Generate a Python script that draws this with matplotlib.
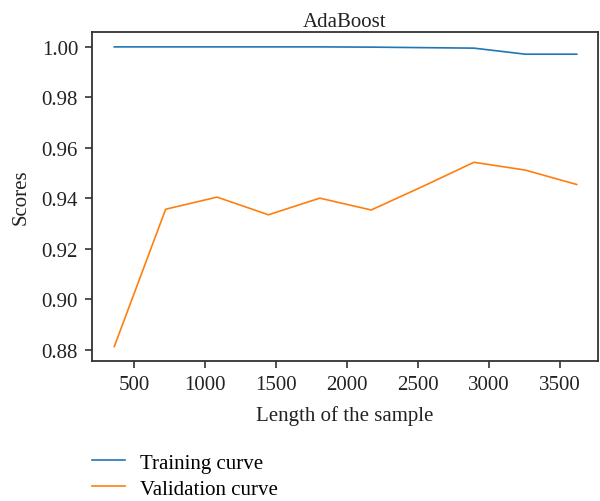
import matplotlib.pyplot as plt
import numpy as np

plt.rcParams['font.family'] = ['Liberation Serif', 'DejaVu Serif']

# learning curve data
train_sizes = [362, 724, 1086, 1448, 1810, 2172, 2534, 2896, 3258, 3620]
train_scores = [1.0, 1.0, 1.0, 1.0, 1.0, 0.9999, 0.9997, 0.9995, 0.9971, 0.9971]
valid_scores = [0.8813, 0.9357, 0.9405, 0.9335, 0.9401, 0.9354, 0.9447, 0.9543, 0.9512, 0.9455]
y_ticks = [0.88, 0.90, 0.92, 0.94, 0.96, 0.98, 1.00]
x_ticks = [500, 1000, 1500, 2000, 2500, 3000, 3500]

fig = plt.figure(figsize=(6, 5.02), dpi=100)
ax = fig.add_axes([0.1533, 0.2789, 0.8434, 0.6554])

ax.plot(train_sizes, train_scores, color='#1f77b4', lw=1.2, label='Training curve')
ax.plot(train_sizes, valid_scores, color='#ff7f0e', lw=1.2, label='Validation curve')

ax.set_xlim(205, 3770)
ax.set_ylim(0.8756, 1.0059)
ax.set_xticks(x_ticks)
ax.set_yticks(y_ticks)
ax.set_yticklabels(['%.2f' % v for v in y_ticks])

for s in ax.spines.values():
    s.set_color('#333333')
    s.set_linewidth(1.3)
ax.tick_params(direction='out', length=5, width=1.2, color='#333333',
               labelsize=15, labelcolor='#222222', pad=5)

ax.set_title('AdaBoost', fontsize=15, color='#222222', pad=4)
ax.set_xlabel('Length of the sample', fontsize=15, color='#222222', labelpad=8)
ax.set_ylabel('Scores', fontsize=15, color='#222222', labelpad=8)

fig.legend(loc='upper left', bbox_to_anchor=(0.14, 0.112), frameon=False,
           fontsize=15, handlelength=1.55, handletextpad=0.75, labelspacing=0.3,
           borderaxespad=0)

fig.savefig('out.png', dpi=100)
